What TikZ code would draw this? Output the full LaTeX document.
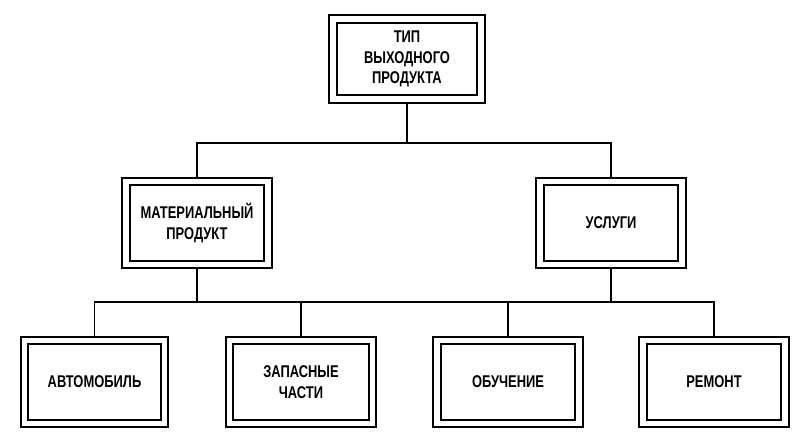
\documentclass[tikz,border=0pt]{standalone}
\usepackage{fontspec}
\setmainfont{Liberation Sans}[FakeStretch=0.76]
\usetikzlibrary{backgrounds}
\tikzset{
  dbox/.style={draw, line width=1.9pt, double=white, double distance=5.5pt, fill=white,
    minimum width=142pt, minimum height=83pt, inner sep=0pt, align=center,
    font=\fontsize{17pt}{20.5pt}\selectfont\bfseries},
  conn/.style={line width=1.8pt}
}
\begin{document}
\begin{tikzpicture}[x=1pt,y=-1pt]
\useasboundingbox (0,0) rectangle (803,443);
\node[dbox, minimum width=148pt, minimum height=80pt] (top) at (407,59) {ТИП\\ВЫХОДНОГО\\ПРОДУКТА};
\node[dbox] (mat) at (197,223) {МАТЕРИАЛЬНЫЙ\\ПРОДУКТ};
\node[dbox] (usl) at (611,223) {УСЛУГИ};
\node[dbox, minimum width=140pt] (avto) at (94.5,382) {АВТОМОБИЛЬ};
\node[dbox, minimum width=143pt] (zap) at (301,382) {ЗАПАСНЫЕ\\ЧАСТИ};
\node[dbox] (obu) at (508,382) {ОБУЧЕНИЕ};
\node[dbox] (rem) at (714,382) {РЕМОНТ};
\begin{scope}[on background layer]
\coordinate (bus1) at (407,143);
\coordinate (bus2) at (197,302);
\coordinate (bus3) at (611,302);
\draw[conn] (top.south) -- (bus1) -| (mat.north);
\draw[conn] (bus1) -| (usl.north);
\draw[conn] (mat.south) -- (bus2) -| (avto.north);
\draw[conn] (bus2) -| (zap.north);
\draw[conn] (usl.south) -- (bus3) -| (obu.north);
\draw[conn] (bus3) -| (rem.north);
\draw[conn] (bus2) -- (bus3);
\end{scope}
\end{tikzpicture}
\end{document}
